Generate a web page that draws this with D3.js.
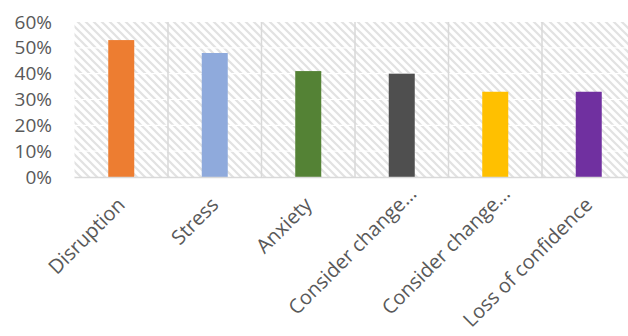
<!DOCTYPE html>
<html><head><meta charset="utf-8">
<script src="https://cdn.jsdelivr.net/npm/d3@7"></script>
<style>body{margin:0;background:#fff;overflow:hidden}svg{display:block}</style>
</head><body>
<script>
const categories = ["Disruption","Stress","Anxiety","Consider change…","Consider change…","Loss of confidence"];
const values = [0.53,0.48,0.41,0.40,0.33,0.33];
const colors = ["#ed7d31","#8faadc","#548235","#4f4f4f","#ffc000","#7030a0"];
const yTicks = [0,0.1,0.2,0.3,0.4,0.5,0.6];

const W=628,H=336;
const m={left:74.5,right:-7.5,top:22,bottom:159};
const svg=d3.select("body").append("svg").attr("width",W).attr("height",H);
const defs=svg.append("defs");
const pat=defs.append("pattern").attr("id","hatch").attr("patternUnits","userSpaceOnUse")
  .attr("width",8).attr("height",8);
pat.append("rect").attr("width",8).attr("height",8).attr("fill","#fff");
pat.append("path").attr("d","M-2,-2 L10,10 M-2,6 L2,10 M6,-2 L10,2").attr("stroke","#e2e2e2").attr("stroke-width",2.2);

const x=d3.scaleBand().domain(d3.range(categories.length)).range([m.left,W-m.right]).paddingInner(0).paddingOuter(0);
const y=d3.scaleLinear().domain([0,0.6]).range([H-m.bottom,m.top]);

svg.append("rect").attr("x",m.left).attr("y",m.top).attr("width",W-m.right-m.left).attr("height",y(0)-m.top).attr("fill","url(#hatch)");

// horizontal gridlines (white)
svg.append("g").selectAll("line").data(yTicks.slice(1,-1)).join("line")
  .attr("x1",m.left).attr("x2",W-m.right).attr("y1",d=>y(d)).attr("y2",d=>y(d))
  .attr("stroke","#fff").attr("stroke-width",1.2);

// vertical separators
svg.append("g").selectAll("line").data(d3.range(1,categories.length)).join("line")
  .attr("x1",d=>x(d)).attr("x2",d=>x(d)).attr("y1",m.top).attr("y2",y(0))
  .attr("stroke","#d9d9d9").attr("stroke-width",1.5);

// bars
const bw=26;
svg.append("g").selectAll("rect").data(values).join("rect")
  .attr("x",(d,i)=>x(i)+x.bandwidth()/2-bw/2).attr("width",bw)
  .attr("y",d=>y(d)).attr("height",d=>y(0)-y(d)).attr("fill",(d,i)=>colors[i]);

// x axis line
svg.append("line").attr("x1",m.left).attr("x2",W-m.right).attr("y1",y(0)+0.5).attr("y2",y(0)+0.5)
  .attr("stroke","#d9d9d9").attr("stroke-width",1.5);

// y axis labels
const yAxis=d3.axisLeft(y).tickValues(yTicks).tickFormat(d3.format(".0%")).tickSize(0).tickPadding(0);
const ya=svg.append("g").attr("transform","translate(52,0)").call(yAxis);
ya.select(".domain").remove();
ya.selectAll("text").attr("font-family","'Open Sans', sans-serif").attr("font-size",19).attr("fill","#595959");

// x labels
const xAxis=d3.axisBottom(x).tickFormat(i=>categories[i]).tickSize(0).tickPadding(0);
const xa=svg.append("g").attr("transform",`translate(0,${y(0)})`).call(xAxis);
xa.select(".domain").remove();
xa.selectAll("text").attr("font-family","'Open Sans', sans-serif").attr("font-size",20).attr("fill","#595959")
  .attr("text-anchor","end").attr("dy","0.35em")
  .attr("transform",i=>categories[i].endsWith("…")?"translate(11,13) rotate(-45)":"translate(0,24) rotate(-45)");
</script>
</body></html>
